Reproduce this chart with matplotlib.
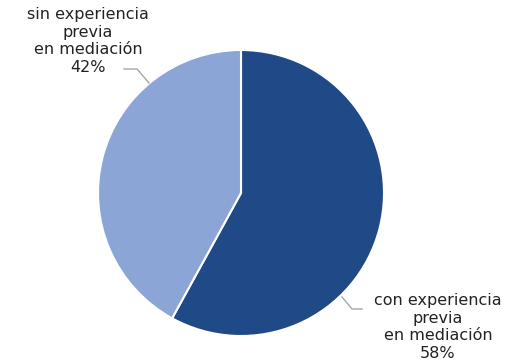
import matplotlib
matplotlib.use("Agg")
import matplotlib.pyplot as plt

categories = ["con experiencia\nprevia\nen mediación", "sin experiencia\nprevia\nen mediación"]
values = [58, 42]
colors = ["#1F4A87", "#8BA5D6"]

W, H = 509, 363
fig = plt.figure(figsize=(W / 100, H / 100), dpi=100)
cx, cy, r = 241, 193, 143
ax = fig.add_axes([(cx - r) / W, (H - cy - r) / H, 2 * r / W, 2 * r / H])
ax.pie(values, colors=colors, startangle=90, counterclock=False, radius=1,
       wedgeprops=dict(edgecolor="white", linewidth=1.5))
ax.set_xlim(-1, 1)
ax.set_ylim(-1, 1)
ax.set_aspect("equal")
ax.axis("off")

def d(px, py):
    return ((px - cx) / r, (cy - py) / r)

# leader lines
for pts in [[(149, 83), (137, 69), (124, 69)], [(342, 297), (352, 309), (362, 309)]]:
    xs, ys = zip(*[d(*p) for p in pts])
    ax.plot(xs, ys, color="#A6A6A6", lw=1, clip_on=False)

labels = [f"{c}\n{v}%" for c, v in zip(categories, values)]
pos = [d(438, 327), d(88, 41)]
for lab, (x, y) in zip(labels, pos):
    ax.text(x, y, lab, ha="center", va="center", fontsize=11.5, color="#222222",
            family="DejaVu Sans", linespacing=1.24, clip_on=False)

fig.savefig("out.png", dpi=100)
